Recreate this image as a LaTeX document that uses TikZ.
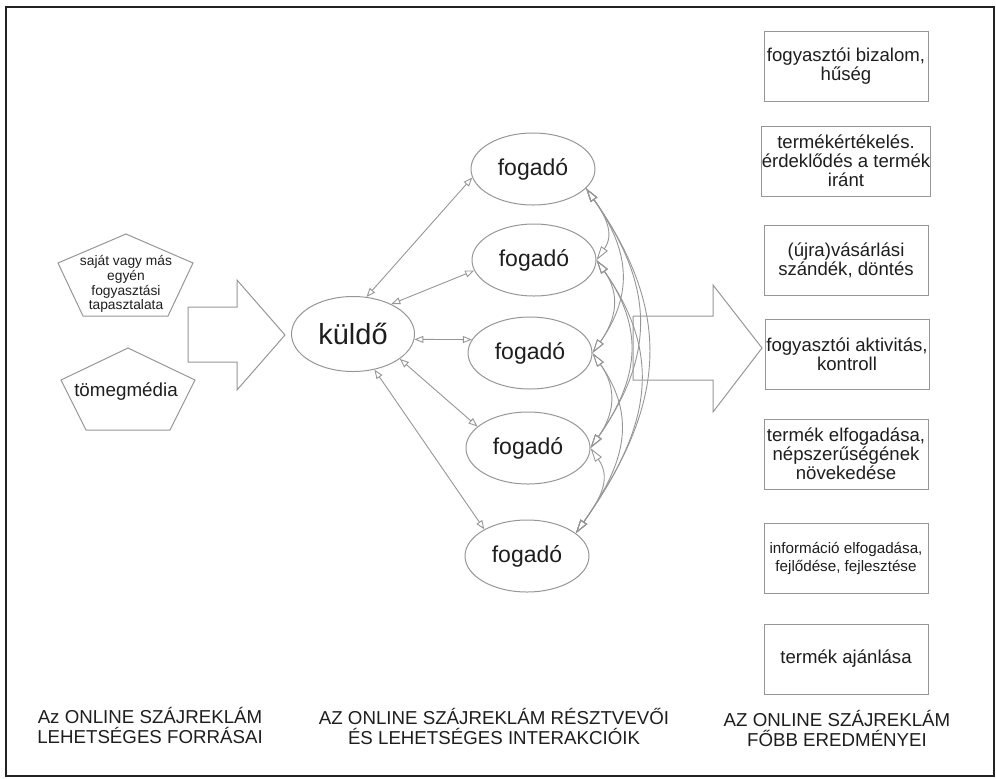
\documentclass[tikz,border=0pt]{standalone}
\usepackage{fontspec}
\setmainfont{Liberation Sans}
\usetikzlibrary{arrows.meta,shapes.geometric}
\definecolor{figline}{RGB}{150,150,150}
\definecolor{figtext}{RGB}{30,30,30}
\definecolor{figframe}{RGB}{35,35,35}
\tikzset{
  sh/.style  ={draw=figline, line width=0.5pt},
  txt/.style ={align=center, text=figtext, inner sep=0pt},
  ell/.style ={sh, ellipse, inner sep=0pt, text=figtext},
  fog/.style ={ell, minimum width=62pt, minimum height=36pt, font=\fontsize{11.5}{12}\selectfont},
  box/.style ={sh, rectangle, minimum width=82pt, minimum height=35pt, inner sep=0pt,
               align=center, text=figtext, font=\fontsize{9.3}{9.6}\selectfont},
  colcap/.style ={txt, font=\fontsize{9.35}{10}\selectfont},
  lnk/.style ={draw=figline, line width=0.45pt,
               {Triangle[open,length=4.5pt,width=3.5pt]}-{Triangle[open,length=4.5pt,width=3.5pt]}},
  msh/.style ={draw=figline, line width=0.45pt, looseness=1.15,
               {Triangle[open,length=7pt,width=4pt]}-{Triangle[open,length=7pt,width=4pt]}},
}
\begin{document}
\begin{tikzpicture}[x=0.5pt,y=0.5pt]
  \useasboundingbox (0,0) rectangle (996,-778);
  \draw[figframe, line width=1pt] (6,-7) rectangle (994,-776);
  % forrasok
  \draw[sh] (126,-234) -- (193,-263) -- (168,-316) -- (83,-316) -- (58,-263) -- cycle;
  \node[txt, font=\fontsize{6.9}{7.35}\selectfont] (src1) at (126,-284) {saját vagy más\\egyén\\fogyasztási\\tapasztalata};
  \draw[sh] (128,-348) -- (195,-380) -- (170,-430) -- (86,-430) -- (61,-380) -- cycle;
  \node[txt, font=\fontsize{9.4}{10}\selectfont] (src2) at (126,-392) {tömegmédia};
  % nagy nyilak
  \draw[sh] (188,-307) -- (237,-307) -- (237,-280) -- (285,-335) -- (237,-390) -- (237,-362) -- (188,-362) -- cycle;
  \draw[sh] (633,-316) -- (713,-316) -- (713,-285) -- (762,-348) -- (713,-412) -- (713,-380) -- (633,-380) -- cycle;
  % resztvevok
  \node[ell, minimum width=61.5pt, minimum height=37.5pt, font=\fontsize{14.5}{15}\selectfont] (kuldo) at (353,-334) {küldő};
  \foreach \n/\x/\y in {1/533/169, 2/534/260, 3/530/353, 4/528/448, 5/527/556}
    \node[fog] (f\n) at (\x,-\y) {fogadó};
  \draw[lnk] (kuldo.70) -- (f1.188);
  \draw[lnk] (kuldo.38) -- (f2.190);
  \draw[lnk] (kuldo.-5) -- (f3.167);
  \draw[lnk] (kuldo.-28) -- (f4.157);
  \draw[lnk] (kuldo.-59) -- (f5.148);
  % fogadok kozotti kapcsolatok
  \coordinate (p1) at (f1.-20);
  \coordinate (p2) at (f2.east);
  \coordinate (p3) at (f3.east);
  \coordinate (p4) at (f4.east);
  \coordinate (p5) at (f5.25);
  \foreach \a/\b in {1/2,1/3,1/4,1/5,2/3,2/4,2/5,3/4,3/5,4/5}
    \draw[msh] (p\a) to[out=-55,in=55] (p\b);
  % eredmenyek
  \node[box] (r1) at (846,-66) {fogyasztói bizalom,\\hűség};
  \node[box] (r2) at (846,-161) {termékértékelés.\\érdeklődés a termék\\iránt};
  \node[box] (r3) at (846,-260) {(újra)vásárlási\\szándék, döntés};
  \node[box] (r4) at (847,-354) {fogyasztói aktivitás,\\kontroll};
  \node[box] (r5) at (846,-454) {termék elfogadása,\\népszerűségének\\növekedése};
  \node[box, font=\fontsize{7.6}{9}\selectfont] (r6) at (846,-558) {információ elfogadása,\\fejlődése, fejlesztése};
  \node[box] (r7) at (846,-659) {termék ajánlása};
  % feliratok
  \node[colcap] (cap1) at (150,-725) {Az ONLINE SZÁJREKLÁM\\LEHETSÉGES FORRÁSAI};
  \node[colcap] (cap2) at (494,-726) {AZ ONLINE SZÁJREKLÁM RÉSZTVEVŐI\\ÉS LEHETSÉGES INTERAKCIÓIK};
  \node[colcap] (cap3) at (837,-728) {AZ ONLINE SZÁJREKLÁM\\FŐBB EREDMÉNYEI};
\end{tikzpicture}
\end{document}
